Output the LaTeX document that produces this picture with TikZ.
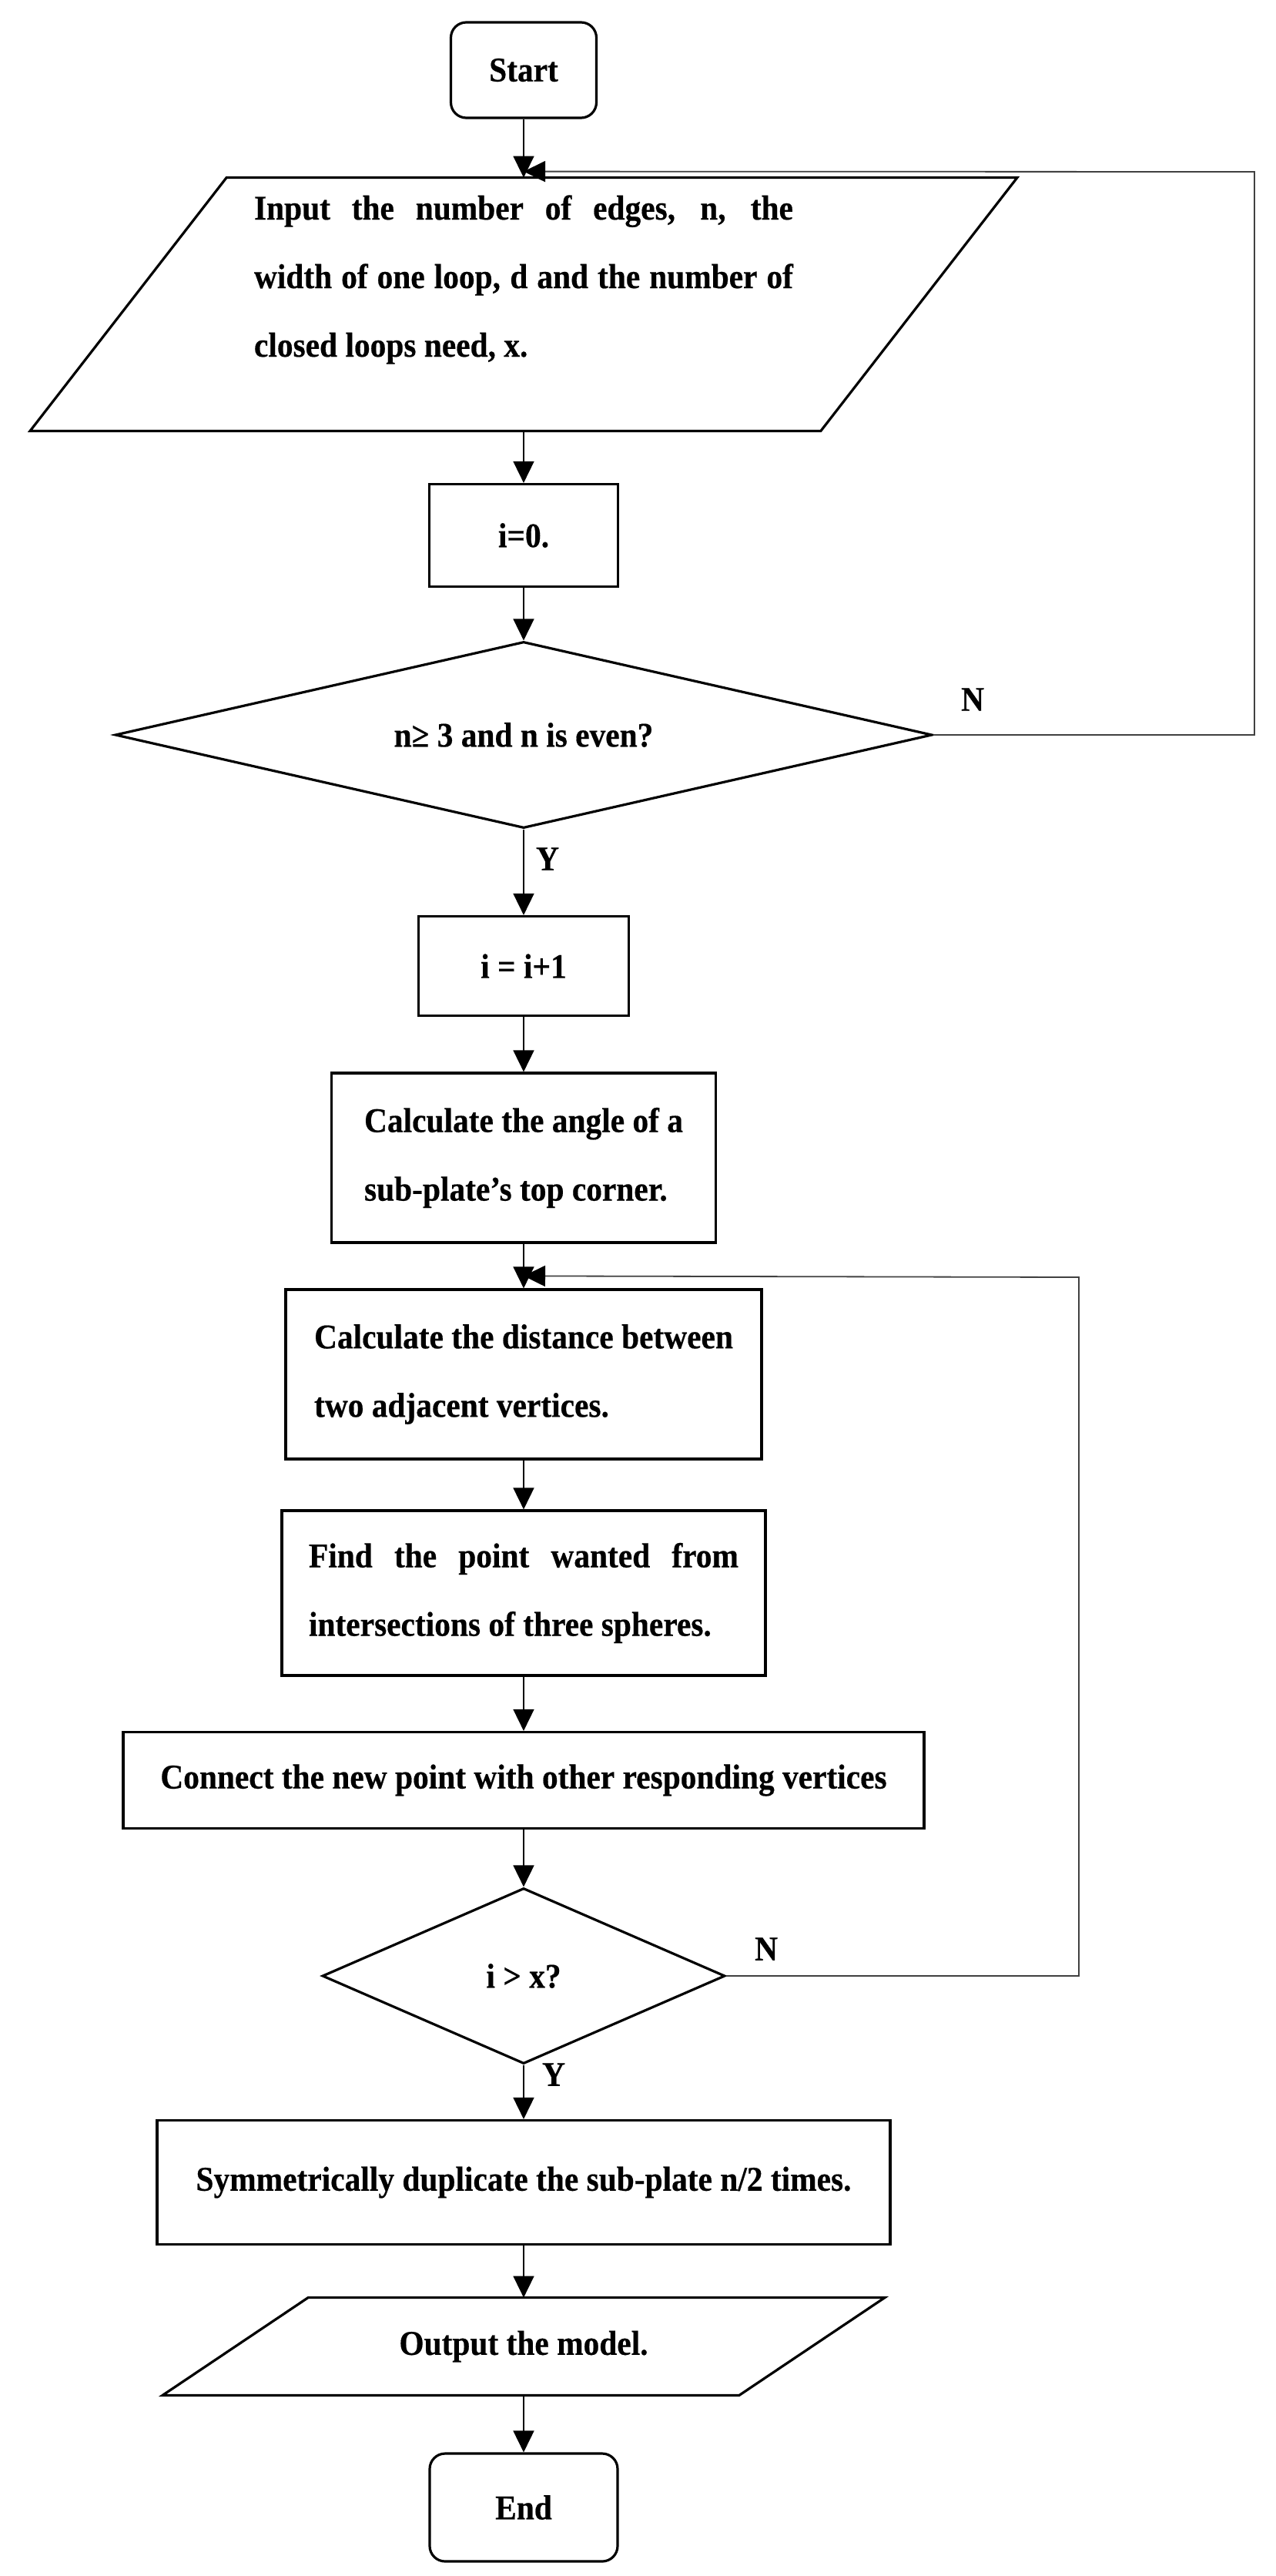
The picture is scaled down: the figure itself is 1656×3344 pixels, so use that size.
\documentclass[tikz,border=0pt]{standalone}
\usepackage{fontspec}
\newfontfamily\flowfont{Liberation Serif}[FakeStretch=0.92,BoldFeatures={FakeBold=0.4}]
\newcommand\flowtxt{\flowfont\bfseries\fontsize{22.5}{44.5}\selectfont}
\usetikzlibrary{arrows.meta,shapes.geometric}
\begin{document}
\begin{tikzpicture}[x=0.5pt,y=-0.5pt,
  box/.style={draw, line width=1.6pt, rectangle, inner sep=0pt, font=\flowtxt},
  term/.style={box, rounded corners=10pt},
  dec/.style={draw, line width=1.6pt, diamond, inner sep=0pt, font=\flowtxt},
  ghost/.style={rectangle, inner sep=0pt, font=\flowtxt},
  lbl/.style={inner sep=0pt, font=\flowtxt},
  shapeline/.style={line width=1.6pt, line join=miter},
  flow/.style={line width=0.85pt, -{Triangle[length=14pt,width=13.5pt]}},
  loopline/.style={line width=0.9pt, draw=black!75, -{Triangle[length=14pt,width=13.5pt,fill=black,color=black]}}]
\useasboundingbox (0,0) rectangle (1656,3344);

% nodes
\node[term, minimum width=94.5pt, minimum height=62pt] (start) at (680,91) {Start};

\node[ghost, minimum width=513pt, minimum height=164pt] (input) at (680,395) {};
\draw[shapeline] ([xshift=63.75pt]input.north west) -- ([xshift=63.75pt]input.north east)
  -- ([xshift=-63.75pt]input.south east) -- ([xshift=-63.75pt]input.south west) -- cycle;
\node[lbl] (intext) at (680,363) {\parbox{350pt}{\makebox[350pt][s]{Input the number of edges, n, the}\\
  \makebox[350pt][s]{width of one loop, d and the number of}\\
  closed loops need, x.}};

\node[box, minimum width=122.5pt, minimum height=66.5pt] (i0) at (680,695) {i=0.};
\node[dec, aspect=4.38, minimum width=530.5pt, minimum height=121pt] (d1) at (680,954) {n≥ 3 and n is even?};
\node[lbl] (n1) at (1263,908) {N};
\node[lbl] (y1) at (711,1115) {Y};
\node[box, minimum width=136.5pt, minimum height=64.5pt] (inc) at (680,1254) {i = i+1};
\node[box, minimum width=249.5pt, minimum height=110pt, align=left] (angle) at (680,1503)
  {Calculate the angle of a\\sub-plate’s top corner.};
\node[box, minimum width=309pt, minimum height=110pt, align=left] (dist) at (680,1784)
  {Calculate the distance between\\two adjacent vertices.};
\node[box, minimum width=314pt, minimum height=107pt] (find) at (680,2068)
  {\parbox{279pt}{\makebox[279pt][s]{Find the point wanted from}\\intersections of three spheres.}};
\node[box, minimum width=520pt, minimum height=62.5pt] (conn) at (680,2311)
  {Connect the new point with other responding vertices};
\node[dec, aspect=2.29, minimum width=261.5pt, minimum height=114pt] (d2) at (680,2565) {i > x?};
\node[lbl] (n2) at (995,2530) {N};
\node[lbl] (y2) at (719,2693) {Y};
\node[box, minimum width=476pt, minimum height=80.5pt] (sym) at (680,2833)
  {Symmetrically duplicate the sub-plate n/2 times.};

\node[ghost, minimum width=374pt, minimum height=63pt] (out) at (680,3046) {Output the model.};
\draw[shapeline] ([xshift=47.25pt]out.north west) -- ([xshift=47.25pt]out.north east)
  -- ([xshift=-47.25pt]out.south east) -- ([xshift=-47.25pt]out.south west) -- cycle;

\node[term, minimum width=122pt, minimum height=70pt] (end) at (680,3255) {End};

% main flow
\draw[flow] (start) -- (input);
\draw[flow] (input) -- (i0);
\draw[flow] (i0) -- (d1);
\draw[flow] (d1) -- (inc);
\draw[flow] (inc) -- (angle);
\draw[flow] (angle) -- (dist);
\draw[flow] (dist) -- (find);
\draw[flow] (find) -- (conn);
\draw[flow] (conn) -- (d2);
\draw[flow] (d2) -- (sym);
\draw[flow] (sym) -- (out);
\draw[flow] (out) -- (end);

% loops
\coordinate (r1) at (1629,223);
\draw[loopline] (d1.east) -| (r1) -- ([yshift=4pt]input.north);
\coordinate (r2) at (1401,1658);
\draw[loopline] (d2.east) -| (r2) -- ([yshift=8pt]dist.north);
\end{tikzpicture}
\end{document}
